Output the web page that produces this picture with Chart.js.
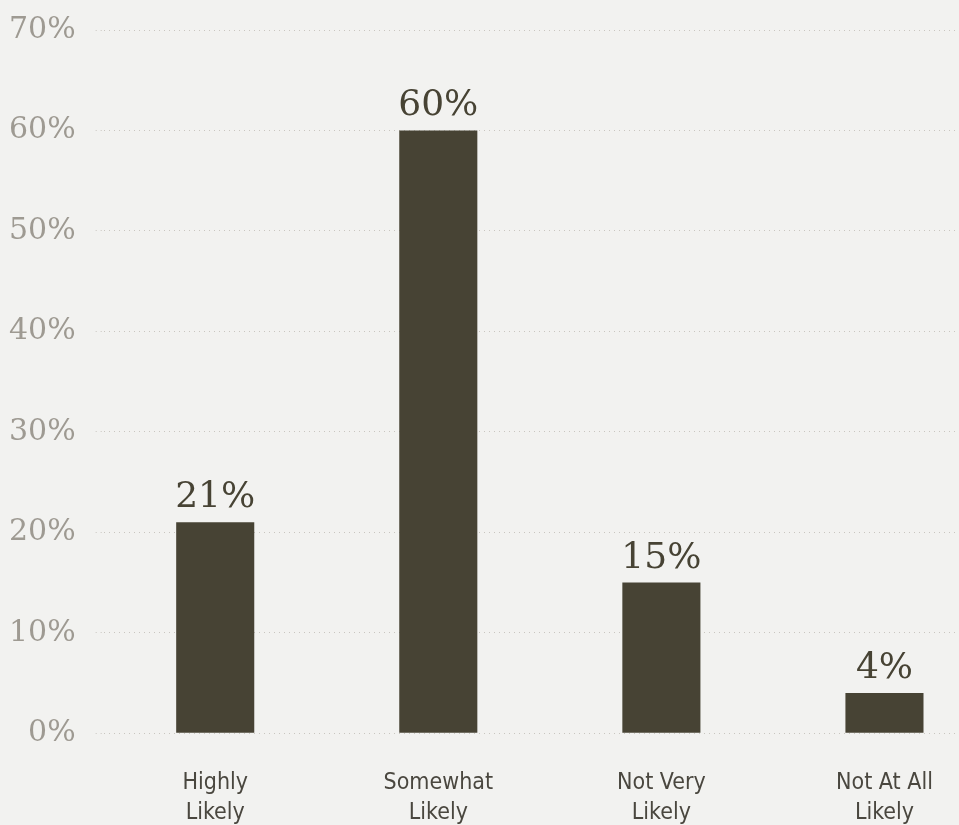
<!DOCTYPE html>
<html>
<head>
<meta charset="utf-8">
<script src="https://cdn.jsdelivr.net/npm/chart.js@4"></script>
<style>
  html, body { margin: 0; padding: 0; background: #f2f2f0; overflow: hidden; }
  #wrap { position: absolute; left: -23px; top: -8px; width: 1023px; height: 863px; }
</style>
</head>
<body>
<div id="wrap"><canvas id="grafico"></canvas></div>
<script>
var categorias = [['Highly', 'Likely'], ['Somewhat', 'Likely'], ['Not Very', 'Likely'], ['Not At All', 'Likely']];
var valores = [21, 60, 15, 4];
var ticksY = [0, 10, 20, 30, 40, 50, 60, 70];

var corBarra = '#474334';
var fonteSerif = "'DejaVu Serif', serif";
var fonteSans = "'DejaVu Sans Condensed', 'Liberation Sans Narrow', 'Roboto', sans-serif";

// escreve o percentual em cima de cada barra
var rotulosBarra = {
    id: 'rotulosBarra',
    afterDatasetsDraw: function(chart){
        var ctx = chart.ctx;
        var meta = chart.getDatasetMeta(0);
        ctx.save();
        ctx.font = '36px ' + fonteSerif;
        ctx.fillStyle = corBarra;
        ctx.textAlign = 'center';
        ctx.textBaseline = 'alphabetic';
        meta.data.forEach(function(barra, i){
            ctx.fillText(valores[i] + '%', barra.x, barra.y - 15);
        });
        ctx.restore();
    }
};

var ctx = document.getElementById('grafico');
var chartPesquisa = new Chart(ctx, {
    type: 'bar',
    data: {
        labels: categorias,
        datasets: [{
            data: valores,
            backgroundColor: corBarra,
            barPercentage: 0.35,
            categoryPercentage: 1
        }]
    },
    options: {
        responsive: true,
        maintainAspectRatio: false,
        animation: false,
        layout: { padding: { left: 12, right: 4, top: 13, bottom: 0 } },
        plugins: {
            legend: { display: false },
            tooltip: { enabled: false }
        },
        scales: {
            y: {
                min: 0,
                max: 70,
                afterBuildTicks: function(axis){
                    axis.ticks = ticksY.map(function(v){ return { value: v }; });
                },
                border: { display: false, dash: [1, 4] },
                grid: {
                    color: '#c9c6c0',
                    tickColor: '#c9c6c0',
                    tickBorderDash: [1, 4],
                    tickLength: 8
                },
                ticks: {
                    padding: 20,
                    color: '#9e9a92',
                    font: { family: fonteSerif, size: 30 },
                    callback: function(v){ return v + '%'; }
                }
            },
            x: {
                border: { display: false },
                grid: { display: false },
                ticks: {
                    padding: 27,
                    color: '#4a473f',
                    font: { family: fonteSans, size: 23, lineHeight: 1.3 }
                }
            }
        }
    },
    plugins: [rotulosBarra]
});
</script>
</body>
</html>
